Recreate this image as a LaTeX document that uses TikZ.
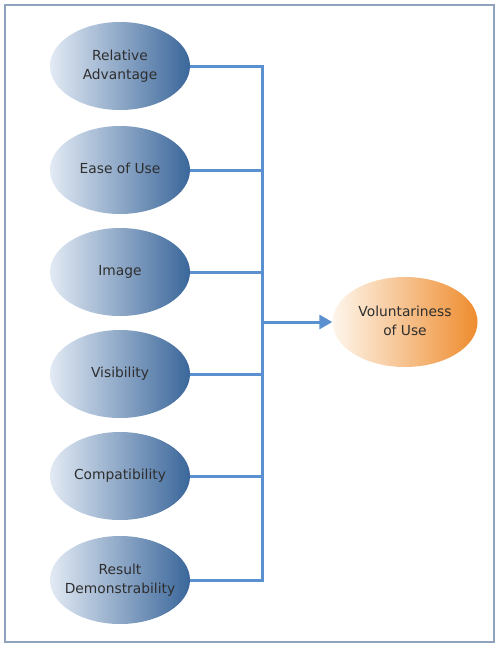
\documentclass[tikz,border=0pt]{standalone}
\usepackage{fontspec}
\setmainfont{DejaVu Sans}
\usetikzlibrary{arrows.meta,shapes.geometric}
\definecolor{bluedark}{HTML}{3A669A}
\definecolor{bluelight}{HTML}{E2EAF4}
\definecolor{orangedark}{HTML}{EE8C2E}
\definecolor{orangelight}{HTML}{FEF6EC}
\definecolor{linecol}{HTML}{5A8FD0}
\definecolor{framecol}{HTML}{8FA3BF}
\definecolor{txt}{HTML}{2E2E2E}
\newcommand\fixw[1]{\raisebox{2.5pt}{\makebox[0pt]{\begin{tabular}{@{}c@{}}#1\end{tabular}}}}
\tikzset{
  x=1pt,y=-1pt,
  factor/.style={ellipse, minimum width=140pt, minimum height=88pt, inner sep=0pt,
    left color=bluelight, right color=bluedark,
    font=\fontsize{13.8}{19.5}\selectfont, text=txt},
  outcome/.style={ellipse, minimum width=145pt, minimum height=90pt, inner sep=0pt,
    left color=orangelight, right color=orangedark,
    font=\fontsize{13.8}{19.5}\selectfont, text=txt},
  conn/.style={draw=linecol, line width=3pt},
}
\begin{document}
\begin{tikzpicture}
\useasboundingbox (0,0) rectangle (499,649);
\draw[framecol, line width=1.6pt] (5,5) rectangle (494,642);
\node[factor] (ra) at (120,66) {\fixw{Relative\\Advantage}};
\node[factor] (eu) at (120,170) {\fixw{Ease of Use}};
\node[factor] (im) at (120,272) {\fixw{Image}};
\node[factor] (vi) at (120,374) {\fixw{Visibility}};
\node[factor] (co) at (120,476) {\fixw{Compatibility}};
\node[factor] (rd) at (120,580) {\fixw{Result\\Demonstrability}};
\node[outcome] (vu) at (405,322) {\fixw{Voluntariness\\of Use}};
\coordinate (top) at (262,66);
\coordinate (bot) at (262,580);
\coordinate (mid) at (262,322);
\draw[conn] (ra.east) -- (top) -- (bot) -- (rd.east);
\foreach \n in {eu,im,vi,co}{
  \draw[conn] (\n.east) -- (\n.east -| top);
}
\draw[conn, -{Triangle[length=13pt,width=14pt]}] (mid) -- (vu.west);
\end{tikzpicture}
\end{document}
